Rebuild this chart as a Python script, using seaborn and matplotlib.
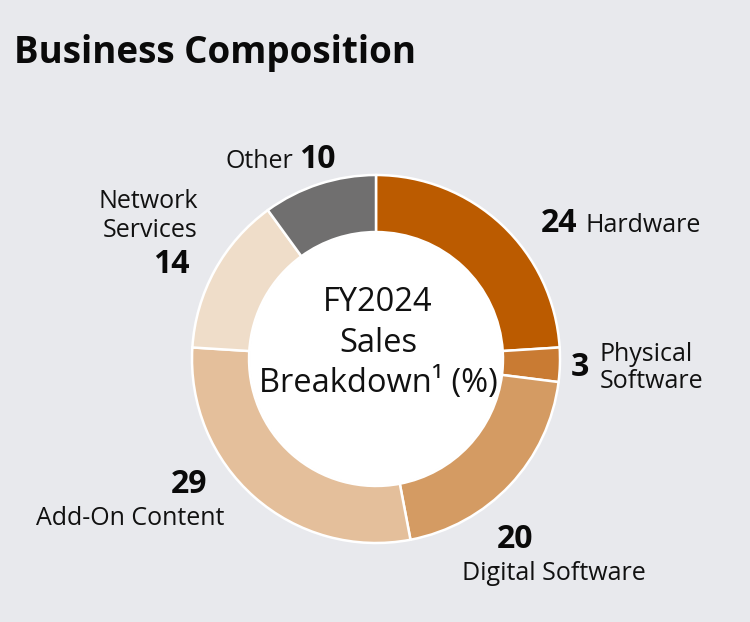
import numpy as np
import matplotlib
matplotlib.use("Agg")
import matplotlib.pyplot as plt
import seaborn as sns

# FY2024 sales breakdown (%), clockwise from 12 o'clock
segments = ["Hardware", "Physical Software", "Digital Software",
            "Add-On Content", "Network Services", "Other"]
shares = [24, 3, 20, 29, 14, 10]

seg_colors = ["#BB5B00", "#C97B33", "#D49B63", "#E4BF9B", "#EFDDC9", "#706F6F"]
bg = "#E8E9ED"

sns.set_theme(style="white", rc={"figure.facecolor": bg, "axes.facecolor": bg})
plt.rcParams["font.family"] = ["Open Sans", "DejaVu Sans"]

W, H = 750, 622
fig = plt.figure(figsize=(W / 100, H / 100), dpi=100)
ax = fig.add_axes([0, 0, 1, 1])
ax.set_xlim(0, W)
ax.set_ylim(H, 0)  # pixel-like coordinates, y grows downward
ax.set_aspect("equal")
ax.axis("off")

cx, cy, r_out = 376, 359, 184
ring = 0.31
# y axis is inverted: angle -90 is 12 o'clock and counterclock=True runs clockwise on screen
wedges, _ = ax.pie(shares, colors=seg_colors, startangle=-90, counterclock=True,
                   radius=r_out, center=(cx, cy),
                   wedgeprops=dict(width=r_out * ring, edgecolor="white", linewidth=1.8))
ax.add_patch(plt.Circle((cx, cy), r_out * (1 - ring) - 1, color="white", zorder=0))
ax.set_xlim(0, W)
ax.set_ylim(H, 0)

ax.text(cx + 2, cy - 16, "FY2024\nSales\nBreakdown¹ (%)", ha="center", va="center",
        fontsize=23.5, linespacing=1.3, color="#111111")

ax.text(14, 63, "Business Composition", fontsize=26.5, fontweight="bold",
        ha="left", va="baseline", color="#0a0a0a")

lab = dict(fontsize=18, color="#111111", va="baseline")
num = dict(fontsize=23, fontweight="bold", color="#0a0a0a", va="baseline")

# Other
ax.text(293, 168, segments[5], ha="right", **lab)
ax.text(299, 168, f"{shares[5]}", ha="left", **num)
# Network Services
ax.text(198, 208, "Network", ha="right", **lab)
ax.text(198, 237, "Services", ha="right", **lab)
ax.text(190, 273, f"{shares[4]}", ha="right", **num)
# Hardware
ax.text(577, 232, f"{shares[0]}", ha="right", **num)
ax.text(585, 232, segments[0], ha="left", **lab)
# Physical Software
ax.text(589, 376, f"{shares[1]}", ha="right", **num)
ax.text(600, 361, "Physical", ha="left", **lab)
ax.text(600, 388, "Software", ha="left", **lab)
# Digital Software
ax.text(497, 548, f"{shares[2]}", ha="left", **num)
ax.text(462, 580, segments[2], ha="left", **lab)
# Add-On Content
ax.text(207, 493, f"{shares[3]}", ha="right", **num)
ax.text(224, 525, segments[3], ha="right", **lab)

fig.savefig("out.png", dpi=100, facecolor=bg)
